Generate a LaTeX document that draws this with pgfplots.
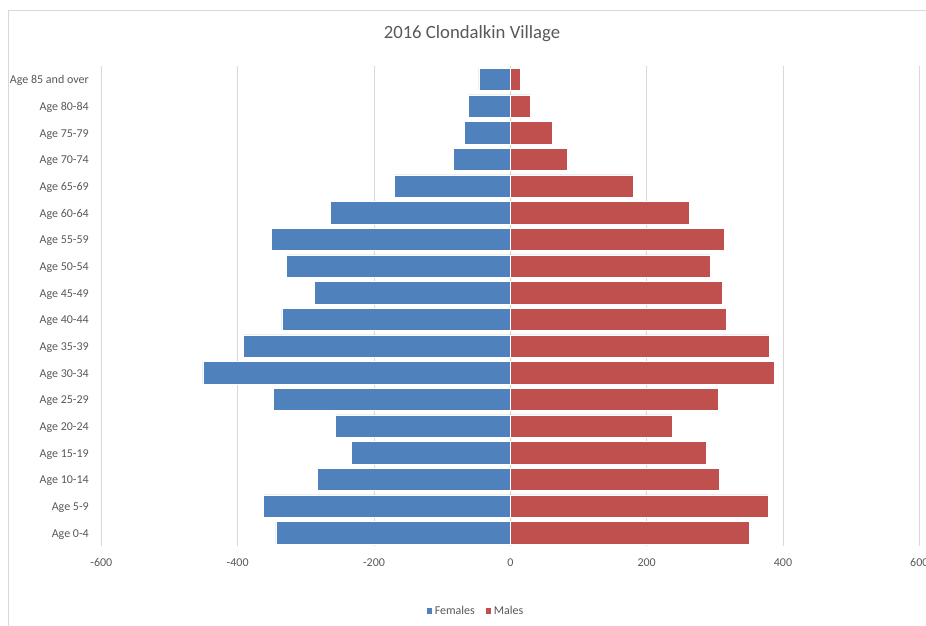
\documentclass[border=0pt]{standalone}
\usepackage{fontspec}
\setmainfont{Carlito}
\usepackage{pgfplots}
\pgfplotsset{compat=1.18}
\usepackage{pgfplotstable}

\definecolor{female}{HTML}{4F81BD}
\definecolor{male}{HTML}{C0504D}
\definecolor{gridgray}{HTML}{D9D9D9}
\definecolor{textgray}{HTML}{595959}

% Population by five-year age band (0 = Age 0-4, ..., 17 = Age 85 and over)
\pgfplotstableread{
idx females males
0   -344   351
1   -362   379
2   -283   307
3   -233   288
4   -256   237
5   -347   305
6   -451   387
7   -392   380
8   -335   317
9   -287   311
10  -328   294
11  -351   314
12  -264   263
13  -170   181
14  -83    83
15  -67    62
16  -62    29
17  -46    14
}\pyramid

\begin{document}
\begin{tikzpicture}
\useasboundingbox (0pt,0pt) rectangle (926pt,626pt);
\fill[white] (0pt,0pt) rectangle (926pt,626pt);
% chart area frame
\draw[gridgray, line width=0.8pt] (8.5pt,0pt) -- (8.5pt,616pt) -- (926pt,616pt);

\node[font=\fontsize{18.7}{22}\selectfont, text=textgray] at (472pt,592pt) {2016 Clondalkin Village};

\begin{axis}[
  at={(101.3pt,80pt)}, anchor=south west,
  scale only axis,
  width=818pt, height=480pt,
  xmin=-600, xmax=600,
  ymin=-0.5, ymax=17.5,
  xtick={-600,-400,...,600},
  ytick={0,...,17},
  yticklabels={Age 0-4,Age 5-9,Age 10-14,Age 15-19,Age 20-24,Age 25-29,Age 30-34,Age 35-39,Age 40-44,Age 45-49,Age 50-54,Age 55-59,Age 60-64,Age 65-69,Age 70-74,Age 75-79,Age 80-84,Age 85 and over},
  axis line style={draw=none},
  major tick length=0pt,
  xmajorgrids,
  grid style={gridgray, line width=0.8pt},
  /pgf/number format/assume math mode=true,
  /pgf/number format/1000 sep={},
  tick label style={font=\fontsize{12}{14}\selectfont, text=textgray},
  xticklabel style={yshift=-9pt},
  yticklabel style={xshift=-9pt, yshift=-1.5pt},
  xbar, bar width=22.3pt,
  legend style={
    at={(0.4575,-0.135)}, anchor=center,
    draw=none, fill=none,
    font=\fontsize{12}{14}\selectfont, text=textgray,
    legend columns=2,
    /tikz/every even column/.append style={column sep=8pt},
  },
  legend image code/.code={\fill[#1] (0pt,-3.5pt) rectangle (6.5pt,3.5pt);},
]
\addplot[fill=female, draw=white, line width=0.6pt, bar shift=0pt]
  table[x=females, y=idx] {\pyramid};
\addlegendentry{Females}
\addplot[fill=male, draw=white, line width=0.6pt, bar shift=0pt]
  table[x=males, y=idx] {\pyramid};
\addlegendentry{Males}
\end{axis}
\end{tikzpicture}
\end{document}
